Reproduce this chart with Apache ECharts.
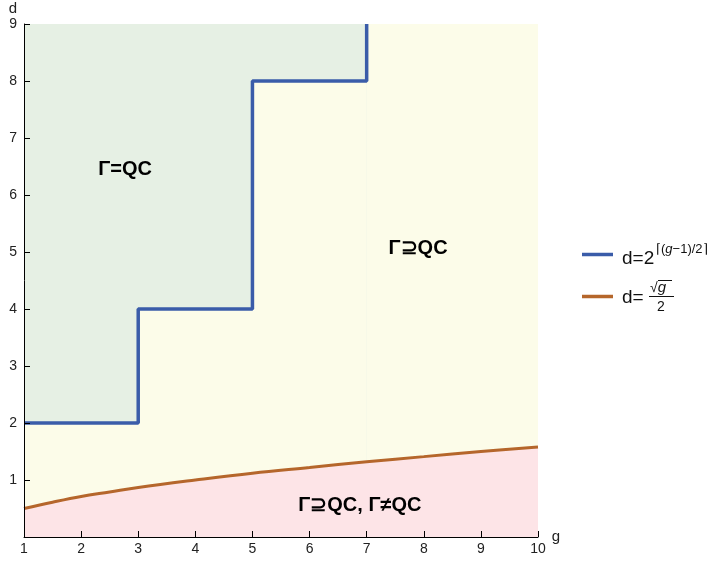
<!DOCTYPE html>
<html>
<head>
<meta charset="utf-8">
<script src="https://cdn.jsdelivr.net/npm/echarts@6/dist/echarts.min.js"></script>
<style>html,body{margin:0;padding:0;background:#fff}#c{width:717px;height:561px}</style>
</head>
<body>
<div id="c"></div>
<script>
// Data
var xTicks = [1,2,3,4,5,6,7,8,9,10];
var yTicks = [1,2,3,4,5,6,7,8,9];
// blue step boundary d = 2^ceil((g-1)/2)
var stepG = [1, 3, 3, 5, 5, 7, 7];
var stepD = [2, 2, 4, 4, 8, 8, 9];
// brown curve d = sqrt(g)/2
var curveG = [1, 1.5, 2, 2.5, 3, 4, 5, 6, 7, 8, 9, 10];
var curveD = [0.50, 0.61, 0.71, 0.79, 0.87, 1.00, 1.12, 1.22, 1.32, 1.41, 1.50, 1.58];
// region extents
var topD = 9;
var greenG = [1, 7];
var fullG = [1, 10];
// region labels
var regionText = ['Γ=QC', 'Γ⊇QC', 'Γ⊇QC, Γ≠QC'];
var regionG = [2.77, 7.9, 6.88];
var regionD = [6.44, 5.07, 0.56];

var BLUE = '#3a5ca9', BROWN = '#b5662b';
var GREEN_F = '#e6f0e4', YELLOW_F = '#fcfce9', PINK_F = '#fde4e7';
var FONT = "'Liberation Sans', Arial, sans-serif";

function pairs(xs, ys) { return xs.map(function (x, i) { return [x, ys[i]]; }); }
function flat(xs, v) { return xs.map(function (x) { return [x, v]; }); }

function areaSeries(data, color, smooth) {
  return { type: 'line', data: data, symbol: 'none', silent: true, smooth: smooth || false,
    lineStyle: { width: 0, opacity: 0 }, areaStyle: { color: color, opacity: 1 } };
}

var chart = echarts.init(document.getElementById('c'), null, { renderer: 'canvas' });
chart.setOption({
  animation: false,
  grid: { left: 24, right: 179, top: 24, bottom: 24, containLabel: false },
  xAxis: {
    type: 'value', min: 1, max: 10, interval: 1, z: 10,
    name: 'g', nameLocation: 'end', nameGap: 12,
    nameTextStyle: { fontFamily: FONT, fontSize: 15, color: '#222', verticalAlign: 'middle', padding: [4, 0, 0, 0] },
    axisLine: { lineStyle: { color: '#000', width: 1 } },
    axisTick: { inside: true, length: 6, lineStyle: { color: '#000' } },
    axisLabel: { fontFamily: FONT, fontSize: 14, color: '#222', margin: 5 },
    splitLine: { show: false }
  },
  yAxis: {
    type: 'value', min: 0, max: 9, interval: 1, z: 10,
    name: 'd', nameLocation: 'end', nameGap: 8,
    nameTextStyle: { fontFamily: FONT, fontSize: 15, color: '#222', align: 'right', padding: [0, 7, 0, 0] },
    axisLine: { show: true, lineStyle: { color: '#000', width: 1 } },
    axisTick: { show: true, inside: true, length: 6, lineStyle: { color: '#000' } },
    axisLabel: { fontFamily: FONT, fontSize: 14, color: '#222', margin: 7,
      formatter: function (v) { return yTicks.indexOf(v) >= 0 ? String(v) : ''; } },
    splitLine: { show: false }
  },
  series: [
    areaSeries(flat(fullG, topD), YELLOW_F),
    areaSeries(flat(greenG, topD), GREEN_F),
    areaSeries(pairs(stepG, stepD), YELLOW_F),
    areaSeries(pairs(curveG, curveD), PINK_F, 0.4),
    { type: 'line', data: pairs(stepG, stepD), symbol: 'none', silent: true,
      lineStyle: { color: BLUE, width: 3.5 } },
    { type: 'line', data: pairs(curveG, curveD), symbol: 'none', silent: true, smooth: 0.4,
      lineStyle: { color: BROWN, width: 3 } },
    { type: 'scatter', symbolSize: 2, silent: true, z: 20,
      itemStyle: { color: 'rgba(0,0,0,0)' },
      data: regionText.map(function (t, i) { return { value: [regionG[i], regionD[i]], name: t }; }),
      label: { show: true, position: 'inside', formatter: function (p) { return p.name; },
        fontFamily: FONT, fontSize: 20, fontWeight: 'bold', color: '#000', opacity: 1,
        textBorderWidth: 0 } }
  ],
  graphic: [
    { type: 'line', shape: { x1: 582, y1: 254.5, x2: 613, y2: 254.5 }, style: { stroke: BLUE, lineWidth: 3.5 } },
    { type: 'text', x: 622, y: 259, style: { text: 'd=2', font: '19px ' + FONT, fill: '#111', align: 'left', verticalAlign: 'middle' } },
    { type: 'text', x: 656, y: 249, style: { text: '{n|⌈(}{i|g}{n|−1)/2⌉}', align: 'left', verticalAlign: 'middle',
        rich: { n: { font: '13px ' + FONT, fill: '#111' }, i: { font: 'italic 13px ' + FONT, fill: '#111' } } } },
    { type: 'line', shape: { x1: 582, y1: 296.5, x2: 613, y2: 296.5 }, style: { stroke: BROWN, lineWidth: 3.5 } },
    { type: 'text', x: 622, y: 298, style: { text: 'd=', font: '19px ' + FONT, fill: '#111', align: 'left', verticalAlign: 'middle' } },
    { type: 'text', x: 650, y: 288, style: { text: '{n|√}{i|g}', align: 'left', verticalAlign: 'middle',
        rich: { n: { font: '14px ' + FONT, fill: '#111' }, i: { font: 'italic 15px ' + FONT, fill: '#111' } } } },
    { type: 'line', shape: { x1: 658, y1: 280.5, x2: 672, y2: 280.5 }, style: { stroke: '#111', lineWidth: 1 } },
    { type: 'line', shape: { x1: 649, y1: 296.5, x2: 674, y2: 296.5 }, style: { stroke: '#111', lineWidth: 1 } },
    { type: 'text', x: 661, y: 307, style: { text: '2', font: '14px ' + FONT, fill: '#111', align: 'center', verticalAlign: 'middle' } }
  ]
});
</script>
</body>
</html>
